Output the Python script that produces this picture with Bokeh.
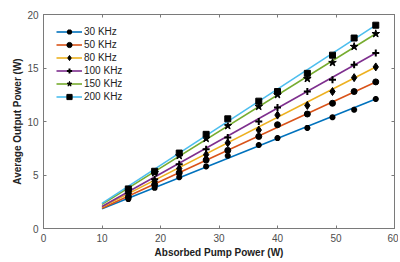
import numpy as np
from bokeh.plotting import figure
from bokeh.models import (Range1d, FixedTicker, LinearAxis, Legend, LegendItem)
from bokeh.embed import file_html
from bokeh.resources import INLINE

# ---- data ----
pump = [14.5, 19.0, 23.2, 27.8, 31.5, 36.8, 40.0, 45.1, 49.4, 53.1, 56.8]
p30 = [2.75, 3.8, 4.8, 5.8, 6.8, 7.8, 8.45, 9.4, 10.4, 11.1, 12.1]
p50 = [2.95, 4.1, 5.2, 6.4, 7.3, 8.6, 9.7, 10.7, 11.7, 12.8, 13.7]
p80 = [3.1, 4.4, 5.6, 6.9, 8.0, 9.2, 10.6, 11.5, 12.8, 14.1, 15.1]
p100 = [3.3, 4.6, 6.0, 7.4, 8.5, 10.0, 11.3, 12.8, 13.9, 15.3, 16.4]
p150 = [3.6, 5.2, 6.8, 8.4, 9.6, 11.4, 12.5, 14.0, 15.5, 17.0, 18.2]
p200 = [3.7, 5.35, 7.05, 8.8, 10.25, 11.9, 12.8, 14.5, 16.2, 17.8, 19.0]
# linear fit lines (start at 10 W, end at 56.8 W)
fit_x = [10.0, 56.8]
fit30 = [1.85, 12.1]
fit50 = [1.9, 13.7]
fit80 = [2.0, 15.1]
fit100 = [2.05, 16.4]
fit150 = [2.25, 18.2]
fit200 = [2.35, 19.0]
labels = ["30 KHz", "50 KHz", "80 KHz", "100 KHz", "150 KHz", "200 KHz"]
x_ticks = [0, 10, 20, 30, 40, 50, 60]
y_ticks = [0, 5, 10, 15, 20]

series = [p30, p50, p80, p100, p150, p200]
fits = [fit30, fit50, fit80, fit100, fit150, fit200]
colors = ["#0072BD", "#D95319", "#EDB120", "#7E2F8E", "#77AC30", "#4DBEEE"]
markers = ["asterisk", "circle", "diamond", "cross", "star", "square"]
msizes = [6, 6, 8, 7, 8, 6]

FONT = "Liberation Sans"
AX = "#7a7a7a"
TXT = "#4d4d4d"

p = figure(width=398, height=260, output_backend="svg", toolbar_location=None,
           x_range=Range1d(0, 60), y_range=Range1d(0, 20),
           min_border_left=43, min_border_right=4, min_border_top=14, min_border_bottom=32)
p.xgrid.visible = False
p.ygrid.visible = False
p.outline_line_color = AX
p.background_fill_color = "white"
p.border_fill_color = "white"

def style(ax, ticks, show):
    ax.ticker = FixedTicker(ticks=ticks)
    ax.major_tick_in = 3
    ax.major_tick_out = 0
    ax.minor_tick_line_color = None
    ax.axis_line_color = AX
    ax.major_tick_line_color = AX
    ax.major_label_text_font = FONT
    ax.major_label_text_color = TXT
    ax.major_label_text_font_size = "10px"
    if not show:
        ax.major_label_overrides = {t: "" for t in ticks}
        ax.major_label_standoff = 0

style(p.xaxis[0], x_ticks, True)
style(p.yaxis[0], y_ticks, True)
p.xaxis[0].major_label_standoff = 5
p.yaxis[0].major_label_standoff = 5
for ax, t in ((p.xaxis[0], "Absorbed Pump Power (W)"), (p.yaxis[0], "Average Output Power (W)")):
    ax.axis_label = t
    ax.axis_label_text_font = FONT
    ax.axis_label_text_font_size = "10px"
    ax.axis_label_text_font_style = "bold"
    ax.axis_label_text_color = "#222222"
p.xaxis[0].axis_label_standoff = 2
p.yaxis[0].axis_label_standoff = 1

top = LinearAxis()
right = LinearAxis()
style(top, x_ticks, False)
style(right, y_ticks, False)
p.add_layout(top, "above")
p.add_layout(right, "right")

items = []
for ys, fy, c, m, s, lab in zip(series, fits, colors, markers, msizes, labels):
    lr = p.line(fit_x, fy, line_color=c, line_width=1.6)
    lw = 2 if m in ("asterisk", "cross") else 1
    sr = p.scatter(pump, ys, marker=m, size=s, fill_color="black",
                   line_color="black", line_width=lw)
    items.append(LegendItem(label=lab, renderers=[lr, sr]))

leg = Legend(items=items, location=(13, 125))
leg.border_line_color = None
leg.background_fill_alpha = 0
leg.padding = 4
leg.spacing = 0
leg.margin = 0
leg.glyph_width = 26
leg.glyph_height = 13
leg.label_height = 13
leg.label_standoff = 2
leg.label_text_font = FONT
leg.label_text_font_size = "10px"
leg.label_text_color = "#222222"
p.add_layout(leg, "center")

open("out.html", "w").write(file_html(p, INLINE))
